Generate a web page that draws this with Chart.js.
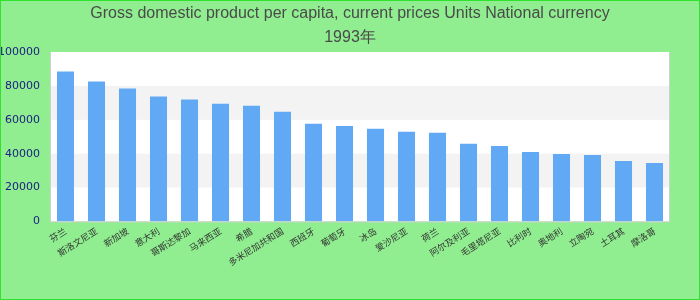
<!DOCTYPE html>
<html>
<head>
<meta charset="utf-8">
<script src="https://cdn.jsdelivr.net/npm/chart.js@4.4.0/dist/chart.umd.min.js"></script>
<style>
  html, body { margin: 0; padding: 0; }
  body { width: 700px; height: 300px; overflow: hidden; }
  #caja { width: 698px; height: 298px; border: 1px solid #2ee22e; background: #90ee90; }
</style>
</head>
<body>
<div id="caja"><canvas id="grafico" width="698" height="298"></canvas></div>
<script>
const paises = ['芬兰', '斯洛文尼亚', '新加坡', '意大利', '哥斯达黎加', '马来西亚', '希腊', '多米尼加共和国', '西班牙', '葡萄牙',
  '冰岛', '爱沙尼亚', '荷兰', '阿尔及利亚', '毛里塔尼亚', '比利时', '奥地利', '立陶宛', '土耳其', '摩洛哥'];
const valores = [88500, 82600, 78400, 73700, 71900, 69500, 68300, 64800, 57600, 56400,
  54700, 52900, 52300, 45800, 44600, 41000, 39800, 39200, 35700, 34500];
const marcasY = [0, 20000, 40000, 60000, 80000, 100000];
const titulo = ['Gross domestic product per capita, current prices Units National currency', '1993年'];

// fondo blanco con franjas grises alternas y borde gris
const fondoArea = {
  id: 'fondoArea',
  beforeDraw(chart) {
    const { ctx, chartArea: a, scales } = chart;
    const y = scales.y;
    ctx.save();
    ctx.fillStyle = '#ffffff';
    ctx.fillRect(a.left, a.top, a.right - a.left, a.bottom - a.top);
    ctx.fillStyle = '#f3f3f3';
    for (let i = 1; i < marcasY.length - 1; i += 2) {
      const y1 = y.getPixelForValue(marcasY[i]);
      const y2 = y.getPixelForValue(marcasY[i + 1]);
      ctx.fillRect(a.left, y2, a.right - a.left, y1 - y2);
    }
    ctx.restore();
  },
  afterDatasetsDraw(chart) {
    const { ctx, chartArea: a } = chart;
    ctx.save();
    ctx.strokeStyle = '#cfcfcf';
    ctx.lineWidth = 1;
    ctx.beginPath();
    ctx.moveTo(a.left + 0.5, a.top);
    ctx.lineTo(a.left + 0.5, a.bottom + 0.5);
    ctx.lineTo(a.right - 0.5, a.bottom + 0.5);
    ctx.lineTo(a.right - 0.5, a.top);
    ctx.stroke();
    ctx.restore();
  }
};

const canva = document.getElementById('grafico');
window.myChart = new Chart(canva, {
  type: 'bar',
  data: {
    labels: paises,
    datasets: [{
      label: 'GDP',
      data: valores,
      backgroundColor: '#62a9f5',
      categoryPercentage: 1,
      barPercentage: 0.55
    }]
  },
  options: {
    responsive: false,
    animation: false,
    layout: { padding: { left: 0, right: 0, top: 0, bottom: 27 } },
    plugins: {
      legend: { display: false },
      tooltip: { enabled: false },
      title: {
        display: true,
        text: titulo,
        color: '#4a4a4a',
        font: { family: 'Liberation Sans', size: 16, weight: 'normal', lineHeight: 1.5 },
        padding: { top: 1, bottom: 2 }
      }
    },
    scales: {
      x: {
        grid: { display: false, drawTicks: false },
        border: { display: false },
        ticks: {
          color: '#333333',
          font: { family: 'Noto Sans CJK SC', size: 9 },
          minRotation: 32,
          maxRotation: 32,
          autoSkip: false,
          padding: 4
        }
      },
      y: {
        min: 0,
        max: 100000,
        afterFit: (s) => { s.width = 49; },
        grid: { display: false, drawTicks: false },
        border: { display: false },
        ticks: {
          stepSize: 20000,
          color: '#1c2180',
          font: { family: 'DejaVu Sans', size: 11 },
          padding: 10,
          callback: (v) => String(v)
        }
      },
      derecha: {
        position: 'right',
        min: 0,
        max: 100000,
        afterFit: (s) => { s.width = 29; },
        grid: { display: false, drawTicks: false },
        border: { display: false },
        ticks: { display: false }
      }
    }
  },
  plugins: [fondoArea]
});
</script>
</body>
</html>
